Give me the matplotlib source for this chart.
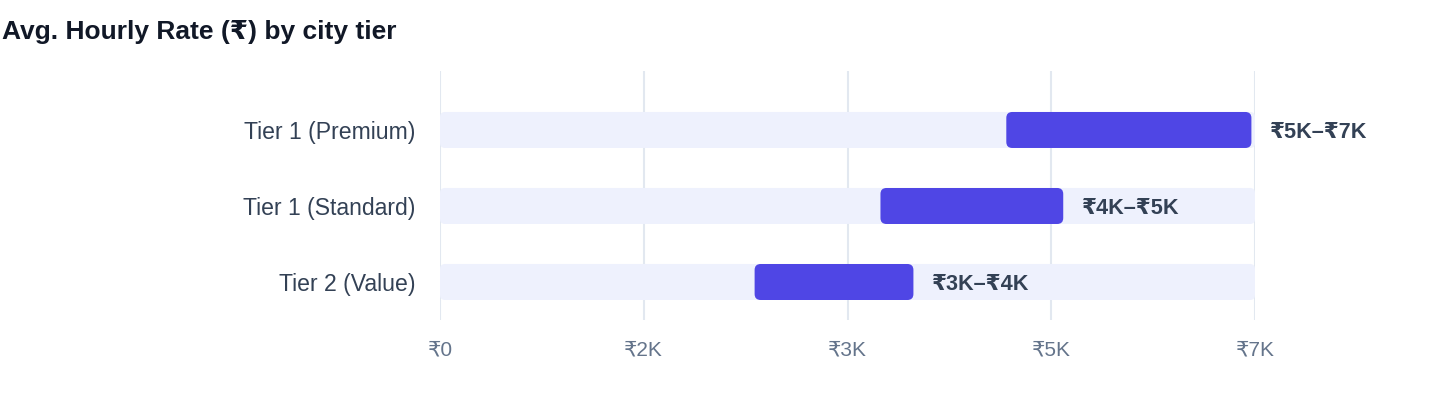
import matplotlib
matplotlib.use("Agg")
import matplotlib.pyplot as plt
from matplotlib.patches import FancyBboxPatch

# ---- data ----
categories = ["Tier 1 (Premium)", "Tier 1 (Standard)", "Tier 2 (Value)"]
range_low = [4725, 3675, 2625]
range_high = [6770, 5200, 3950]
value_labels = ["₹5K–₹7K", "₹4K–₹5K", "₹3K–₹4K"]
axis_max = 6800
tick_values = [0, 1700, 3400, 5100, 6800]
tick_labels = ["₹0", "₹2K", "₹3K", "₹5K", "₹7K"]
title = "Avg. Hourly Rate (₹) by city tier"

plt.rcParams['font.family'] = ['Liberation Sans', 'DejaVu Sans']

W, H = 1440, 408
fig = plt.figure(figsize=(W / 100, H / 100), dpi=100)
fig.patch.set_facecolor("white")
ax = fig.add_axes([440 / W, (H - 320) / H, 815 / W, 249 / H])

ax.set_xlim(0, axis_max)
ax.set_ylim(2.5, -0.776)

bbox = ax.get_window_extent()
x_per_px = axis_max / bbox.width
y_per_px = (2.5 + 0.776) / bbox.height
aspect = y_per_px / x_per_px

bar_h = 36 * y_per_px

for i, cat in enumerate(categories):
    # background track
    track = FancyBboxPatch((0, i - bar_h / 2), axis_max, bar_h,
                           boxstyle=f"round,pad=0,rounding_size={5 * x_per_px}",
                           mutation_aspect=aspect, facecolor="#EEF1FD",
                           edgecolor="none", zorder=1)
    ax.add_patch(track)
    lo, hi = range_low[i], range_high[i]
    bar = FancyBboxPatch((lo, i - bar_h / 2), hi - lo, bar_h,
                         boxstyle=f"round,pad=0,rounding_size={6 * x_per_px}",
                         mutation_aspect=aspect, facecolor="#4F46E5",
                         edgecolor="none", zorder=2)
    ax.add_patch(bar)
    ax.annotate(value_labels[i], xy=(hi, i), xytext=(13.5, -1.5),
                textcoords="offset points", va="center", ha="left",
                fontsize=15.6, fontweight="bold", color="#334155",
                annotation_clip=False)

ax.set_yticks(range(len(categories)))
ax.set_yticklabels(categories, fontsize=16.6, color="#334155")
ax.set_xticks(tick_values)
ax.set_xticklabels(tick_labels, fontsize=15, color="#64748B")
ax.tick_params(axis="y", length=0, pad=18)
ax.tick_params(axis="x", length=0, pad=15)

for s in ax.spines.values():
    s.set_visible(False)
ax.grid(axis="x", color="#E2E8F0", linewidth=1.5, zorder=0)
ax.set_axisbelow(True)

fig.text(2 / W, 1 - 32 / H, title, ha="left", va="center",
         fontsize=19, fontweight="bold", color="#111827")

fig.savefig("out.png", dpi=100, facecolor="white")
